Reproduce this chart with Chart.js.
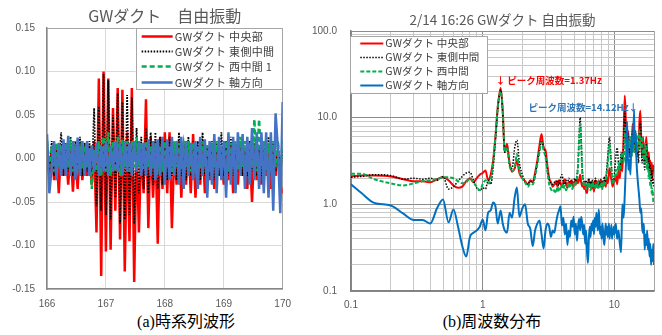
<!DOCTYPE html>
<html>
<head>
<meta charset="utf-8">
<script src="https://cdn.jsdelivr.net/npm/chart.js@4.4.1/dist/chart.umd.min.js"></script>
<style>
    body { margin: 0; background: #fff; }
    #page { position: relative; width: 662px; height: 335px; background: #fff; overflow: hidden; }
    #waveChart { position: absolute; left: 0; top: 0; }
    #specChart { position: absolute; left: 300px; top: 0; }
    .caption { position: absolute; top: 312px; line-height: 20px; font-size: 16px; color: #000;
        font-family: "Liberation Serif", "Noto Sans CJK JP", serif; transform: translateX(-50%); white-space: nowrap; }
</style>
</head>
<body>
<div id="page">
    <canvas id="waveChart" width="300" height="312"></canvas>
    <canvas id="specChart" width="362" height="312"></canvas>
    <div class="caption" style="left:186px">(a)時系列波形</div>
    <div class="caption" style="left:492px">(b)周波数分布</div>
</div>
<script>
// ---- (a) 時系列 : 166〜170 s, 0.04 s 間隔 ----
var timeStart = 166;
var timeStep = 0.04;
var waveNames = ['GWダクト 中央部', 'GWダクト 東側中間', 'GWダクト 西中間 1', 'GWダクト 軸方向'];
var waveCenter = [
    0.005, -0.02, 0.012, -0.025, 0.01, -0.04, 0.015, -0.02, 0.008, -0.03,
    0.012, -0.038, 0.01, -0.035, 0.018, -0.025, 0.01, -0.02, 0.015, -0.03,
    0.02, -0.085, 0.092, -0.135, 0.10, -0.107, 0.092, -0.105, 0.058, -0.06,
    0.081, -0.093, 0.079, -0.13, 0.03, -0.095, 0.081, -0.142, 0.02, -0.085,
    0.015, -0.04, 0.068, -0.08, 0.025, -0.045, 0.02, -0.098, 0.025, -0.035,
    0.03, -0.04, 0.03, -0.08, 0.01, -0.03, 0.02, -0.045, 0.015, -0.03,
    0.02, -0.04, 0.028, -0.045, 0.01, -0.03, 0.02, -0.04, 0.012, -0.025,
    0.01, -0.035, 0.015, -0.02, 0.01, -0.03, 0.012, -0.025, 0.015, -0.04,
    0.01, -0.03, 0.015, -0.02, 0.012, -0.035, 0.01, -0.05, 0.015, -0.025,
    0.01, -0.03, 0.012, -0.02, 0.01, -0.035, 0.015, -0.02, 0.01, -0.03,
    -0.04
];
var waveEast = [
    0.02, -0.015, 0.02, -0.02, 0.015, -0.01, 0.03, -0.02, 0.018, -0.015,
    0.025, -0.02, 0.02, -0.015, 0.025, -0.02, 0.018, -0.015, 0.02, -0.02,
    0.058, -0.055, 0.06, -0.06, 0.097, -0.065, 0.09, -0.07, 0.05, -0.045,
    0.075, -0.075, 0.065, -0.07, 0.073, -0.065, 0.07, -0.075, 0.035, -0.04,
    0.025, -0.035, 0.035, -0.04, 0.03, -0.03, 0.03, -0.035, 0.025, -0.03,
    0.02, -0.025, 0.025, -0.02, 0.02, -0.025, 0.03, -0.02, 0.02, -0.025,
    0.025, -0.02, 0.02, -0.02, 0.02, -0.025, 0.03, -0.02, 0.015, -0.02,
    0.02, -0.025, 0.02, -0.02, 0.03, -0.02, 0.02, -0.02, 0.025, -0.02,
    0.015, -0.015, 0.02, -0.02, 0.015, -0.02, 0.02, -0.015, 0.018, -0.02,
    0.015, -0.02, 0.02, -0.015, 0.025, -0.02, 0.02, -0.015, 0.02, -0.02,
    0.01
];
var waveWest = [
    0.02, -0.01, 0.015, -0.015, 0.018, -0.01, 0.015, -0.012, 0.018, -0.01,
    0.012, -0.015, 0.015, -0.01, 0.01, -0.012, 0.015, -0.01, 0.012, -0.035,
    0.01, -0.015, 0.02, -0.02, 0.025, -0.015, 0.03, -0.02, 0.02, -0.015,
    0.025, -0.02, 0.022, -0.01, 0.02, -0.015, 0.02, -0.01, 0.025, -0.01,
    0.018, -0.012, 0.02, -0.01, 0.015, -0.012, 0.018, -0.01, 0.015, -0.015,
    0.02, -0.01, 0.015, -0.015, 0.02, -0.01, 0.018, -0.012, 0.015, -0.01,
    0.02, -0.015, 0.018, -0.01, 0.015, -0.012, 0.02, -0.01, 0.015, -0.015,
    0.018, -0.01, 0.02, -0.012, 0.015, -0.01, 0.02, -0.015, 0.018, -0.01,
    0.02, -0.012, 0.025, -0.01, 0.02, -0.015, 0.018, -0.01, 0.045, -0.015,
    0.045, -0.01, 0.02, -0.015, 0.018, -0.012, 0.02, -0.01, 0.02, -0.015,
    0.02
];
var waveAxial = [
    0.028, -0.04, -0.01, 0.02, -0.025, 0.018, -0.02, 0.022, -0.02, 0.026,
    -0.02, 0.02, -0.025, 0.024, -0.02, 0.02, -0.02, 0.02, -0.02, 0.015,
    -0.015, 0.018, -0.02, 0.015, -0.015, 0.02, -0.02, 0.015, -0.015, 0.02,
    -0.015, 0.018, -0.02, 0.02, -0.015, 0.018, -0.02, 0.02, -0.015, 0.02,
    -0.02, 0.018, -0.02, 0.022, -0.02, 0.02, -0.025, 0.022, -0.02, 0.025,
    -0.03, 0.022, -0.025, 0.025, -0.02, 0.02, -0.03, 0.025, -0.035, 0.02,
    -0.02, 0.018, -0.025, 0.02, -0.035, 0.025, -0.02, 0.022, -0.045, 0.02,
    -0.03, 0.028, -0.04, 0.025, -0.025, 0.02, -0.045, 0.03, -0.03, 0.025,
    -0.04, 0.03, -0.02, 0.028, -0.035, 0.025, -0.03, 0.035, -0.025, 0.03,
    -0.035, 0.03, -0.04, 0.03, -0.045, 0.03, -0.06, 0.052, 0.01, -0.063,
    0.065
];
var waveXTicks = [166, 167, 168, 169, 170];
var waveYTicks = [-0.15, -0.10, -0.05, 0, 0.05, 0.10, 0.15];

// ---- (b) 周波数分布 ----
var specNames = ['GWダクト 中央部', 'GWダクト 東側中間', 'GWダクト 西中間', 'GWダクト 軸方向'];
var freqHz = [
    0.1, 0.12, 0.15, 0.2, 0.25, 0.3, 0.35, 0.4, 0.45, 0.5,
    0.55, 0.6, 0.65, 0.7, 0.75, 0.8, 0.85, 0.9, 0.95, 1.0,
    1.05, 1.1, 1.15, 1.2, 1.25, 1.3, 1.37, 1.42, 1.47, 1.53,
    1.6, 1.67, 1.75, 1.82, 1.9, 2.0, 2.1, 2.2, 2.3, 2.4,
    2.5, 2.6, 2.7, 2.8, 2.9, 3.0, 3.1, 3.2, 3.3, 3.4,
    3.5, 3.6, 3.7, 3.8, 3.9, 4.0, 4.1, 4.2, 4.3, 4.4,
    4.5, 4.6, 4.7, 4.8, 4.9, 5.0, 5.1, 5.2, 5.3, 5.4,
    5.5, 5.6, 5.7, 5.8, 5.9, 6.0, 6.1, 6.2, 6.3, 6.4,
    6.5, 6.6, 6.7, 6.8, 6.9, 7.0, 7.1, 7.2, 7.3, 7.4,
    7.5, 7.6, 7.7, 7.8, 7.9, 8.0, 8.1, 8.2, 8.3, 8.4,
    8.5, 8.6, 8.7, 8.8, 8.9, 9.0, 9.1, 9.2, 9.3, 9.4,
    9.5, 9.6, 9.7, 9.8, 9.9,
    10.0, 10.25, 10.5, 10.75, 11.0, 11.25, 11.5, 11.75, 12.0, 12.25,
    12.5, 12.75, 13.0, 13.25, 13.5, 13.75, 14.12, 14.25, 14.5, 14.75,
    15.0, 15.25, 15.5, 15.75, 16.0, 16.25, 16.5, 16.75, 17.0, 17.25,
    17.5, 17.75, 18.0, 18.25, 18.5, 18.75, 19.0, 19.25, 19.5, 19.75,
    20.0
];
var specCenter = [
    2.1, 2.15, 2.15, 2.1, 1.95, 1.85, 1.85, 1.8, 1.95, 2.05,
    1.9, 1.65, 1.55, 1.6, 1.85, 2.0, 1.8, 2.0, 2.2, 2.3,
    2.45, 1.9, 2.2, 3.2, 6.0, 13, 22, 12, 4.0, 5.0,
    3.0, 2.4, 2.6, 3.2, 2.3, 2.0, 1.85, 1.7, 1.9, 1.8,
    2.3, 3.2, 4.8, 6.5, 4.5, 4.2, 2.8, 2.0, 1.8, 1.6,
    1.7, 1.85, 1.6, 1.9, 1.75, 1.6, 1.8, 1.95, 1.7, 1.55,
    1.8, 1.65, 1.9, 1.75, 1.6, 1.85, 1.7, 2.0, 1.75, 1.9,
    2.2, 1.8, 1.6, 1.75, 1.5, 1.8, 1.4, 1.35, 1.7, 1.9,
    1.6, 1.75, 1.5, 1.85, 1.65, 1.4, 1.8, 1.9, 1.6, 1.75,
    1.55, 1.85, 1.7, 1.6, 1.9, 1.75, 1.55, 1.8, 1.65, 1.9,
    1.7, 1.6, 1.85, 2.0, 1.75, 2.0, 2.3, 2.6, 2.4, 2.1,
    1.9, 1.75, 1.6, 1.7, 1.85,
    1.8, 2.2, 1.7, 2.5, 2.0, 3.2, 2.4, 6.0, 18, 8.0,
    4.5, 7.0, 3.5, 5.5, 4.0, 8.5, 5.0, 4.0, 6.5, 3.5,
    5.0, 4.0, 9.0, 12, 5.5, 3.5, 6.0, 4.0, 3.0, 4.5,
    6.0, 3.5, 3.0, 4.0, 2.5, 3.2, 2.2, 3.0, 2.0, 2.8,
    2.4
];
var specEast = [
    2.05, 2.1, 2.2, 2.15, 1.95, 2.0, 1.95, 2.0, 1.9, 2.1,
    1.5, 1.6, 1.85, 2.1, 2.3, 2.35, 1.9, 1.55, 1.45, 1.55,
    1.5, 1.9, 1.7, 2.6, 5.5, 12, 21, 11, 4.0, 4.5,
    2.8, 2.6, 4.5, 5.5, 3.0, 2.2, 1.8, 1.7, 1.85, 1.75,
    2.2, 3.0, 4.2, 5.3, 4.6, 3.6, 2.5, 1.9, 1.75, 1.7,
    1.8, 1.7, 1.9, 1.65, 2.0, 2.2, 1.8, 1.7, 1.9, 1.75,
    2.0, 1.8, 1.65, 1.9, 1.8, 2.0, 1.85, 2.2, 3.0, 6.0,
    10, 5.5, 2.6, 2.0, 1.8, 1.7, 1.9, 1.6, 1.8, 2.0,
    1.7, 1.85, 1.65, 1.9, 1.75, 1.6, 1.85, 2.0, 1.7, 1.8,
    1.65, 1.9, 1.75, 1.7, 1.95, 1.8, 1.7, 1.85, 1.9, 2.1,
    1.8, 2.0, 2.3, 2.8, 3.5, 4.5, 5.5, 6.0, 4.8, 3.6,
    2.8, 2.2, 1.9, 1.8, 2.0,
    2.2, 3.5, 4.5, 3.0, 2.5, 4.0, 3.0, 5.0, 12, 6.0,
    4.5, 6.5, 4.0, 5.0, 3.5, 7.0, 6.0, 4.5, 5.5, 3.5,
    4.5, 3.0, 6.5, 9.0, 4.5, 3.0, 5.0, 3.5, 2.5, 4.0,
    5.0, 3.0, 2.5, 3.5, 2.0, 2.8, 1.8, 2.5, 1.7, 2.0,
    1.6
];
var specWest = [
    2.25, 2.25, 1.95, 1.75, 1.65, 1.75, 1.85, 1.9, 1.95, 2.05,
    2.05, 2.0, 1.85, 1.75, 1.8, 2.0, 1.8, 1.6, 1.45, 1.7,
    1.9, 1.75, 1.9, 3.0, 6.0, 13, 20, 12, 4.0, 4.6,
    2.8, 2.4, 2.7, 3.8, 2.4, 2.0, 1.8, 1.6, 1.75, 1.7,
    2.1, 2.9, 4.0, 5.2, 4.2, 3.5, 2.4, 1.7, 1.5, 1.4,
    1.45, 1.35, 1.6, 1.4, 1.55, 1.7, 1.5, 1.65, 1.45, 1.6,
    1.8, 1.55, 1.7, 1.5, 1.75, 1.6, 1.8, 2.0, 2.8, 5.5,
    8.5, 5.0, 2.4, 1.8, 1.6, 1.75, 1.5, 1.7, 1.55, 1.8,
    1.6, 1.45, 1.7, 1.55, 1.8, 1.6, 1.7, 1.5, 1.75, 1.6,
    1.85, 1.55, 1.7, 1.6, 1.8, 1.65, 1.5, 1.75, 1.6, 1.85,
    1.7, 1.9, 2.1, 2.5, 3.0, 3.8, 4.5, 5.0, 4.2, 3.2,
    2.5, 2.0, 1.8, 1.7, 1.9,
    1.9, 2.5, 2.2, 3.0, 2.4, 3.5, 4.0, 3.0, 6.0, 8.0,
    4.0, 5.5, 4.5, 6.0, 3.5, 5.0, 4.0, 7.0, 5.0, 6.5,
    4.0, 5.5, 7.0, 5.0, 4.5, 6.0, 3.5, 4.5, 3.0, 5.0,
    3.5, 2.5, 3.0, 2.0, 2.5, 1.6, 1.8, 1.3, 1.5, 1.1,
    1.0
];
var specAxial = [
    1.7, 1.35, 1.04, 0.97, 0.78, 0.66, 0.66, 0.6, 0.9, 1.14,
    0.62, 0.87, 0.55, 0.33, 0.25, 0.42, 0.47, 0.5, 0.55, 0.67,
    0.5, 0.8, 0.85, 1.05, 0.95, 0.6, 0.85, 0.6, 0.5, 0.47,
    0.8, 0.7, 1.2, 1.56, 0.72, 0.9, 1.0, 0.6, 0.52, 0.33,
    0.5, 0.6, 0.65, 0.45, 0.31, 0.5, 0.6, 0.55, 0.42, 0.5,
    0.47, 0.6, 0.75, 0.85, 0.95, 0.57, 0.7, 0.45, 0.6, 0.34,
    0.5, 0.42, 0.65, 0.55, 0.72, 0.45, 0.6, 0.38, 0.55, 0.68,
    0.5, 0.72, 0.6, 0.45, 0.58, 0.35, 0.5, 0.28, 0.21, 0.4,
    0.55, 0.42, 0.6, 0.5, 0.65, 0.45, 0.7, 0.55, 0.8, 0.6,
    0.5, 0.87, 0.65, 0.45, 0.55, 0.4, 0.6, 0.5, 0.38, 0.34,
    0.48, 0.6, 0.45, 0.55, 0.42, 0.5, 0.6, 0.4, 0.52, 0.45,
    0.58, 0.4, 0.5, 0.45, 0.55,
    0.45, 0.6, 0.4, 0.5, 0.35, 0.28, 1.0, 0.7, 1.3, 3.0,
    9.0, 2.5, 3.3, 2.2, 6.0, 4.0, 12, 5.2, 7.0, 3.0,
    2.0, 1.5, 1.14, 0.8, 0.9, 0.55, 0.47, 0.6, 0.3, 0.45,
    0.34, 0.5, 0.3, 0.4, 0.25, 0.35, 0.2, 0.3, 0.22, 0.35,
    0.2
];
var specXLabels = [0.1, 1, 10];
var specYLabels = [0.1, 1, 10, 100];
var peakNotes = ['↓ ピーク周波数=1.37Hz', 'ピーク周波数=14.12Hz↓'];
var peakFreqs = [1.37, 14.12];

var tickFont = {family: 'Liberation Sans', size: 10};
var cjkFont = '"Noto Sans CJK JP", "Noto Sans", sans-serif';

function toPoints(xs, ys) {
    return ys.map(function (y, i) {
        return {x: xs[i], y: y};
    });
}

function near(a, b) {
    return Math.abs(a - b) < 1e-9;
}

function isDecade(v) {
    var e = Math.log10(v);
    return Math.abs(e - Math.round(e)) < 1e-6;
}

// 対数軸の目盛 (1〜9 x 10^n)
function logTicks(min, max) {
    var list = [];
    for (var e = -1; e <= 2; e++) {
        for (var m = 1; m < 10; m++) {
            var v = +(m * Math.pow(10, e)).toPrecision(6);
            if (v >= min - 1e-9 && v <= max + 1e-9) {
                list.push({value: v});
            }
        }
    }
    return list;
}

// 凡例はプロット内に箱で描く
var legendBox = {
    id: 'legendBox',
    afterDatasetsDraw: function (chart, args, o) {
        var ctx = chart.ctx, area = chart.chartArea;
        var left = o.side === 'right' ? area.right - o.offsetX - o.width : area.left + o.offsetX;
        var top = area.top + o.offsetY;
        ctx.save();
        ctx.fillStyle = '#fff';
        ctx.fillRect(left, top, o.width, o.height);
        ctx.strokeStyle = '#a6a6a6';
        ctx.lineWidth = 1;
        ctx.strokeRect(Math.round(left) + 0.5, Math.round(top) + 0.5, Math.round(o.width), Math.round(o.height));
        ctx.font = o.fontSize + 'px ' + cjkFont;
        ctx.letterSpacing = o.spacing + 'px';
        ctx.textBaseline = 'middle';
        ctx.textAlign = 'left';
        chart.data.datasets.forEach(function (ds, i) {
            var y = Math.round(top + o.firstRow + i * o.rowHeight) + 0.5;
            ctx.beginPath();
            ctx.setLineDash(ds.borderDash || []);
            ctx.strokeStyle = ds.borderColor;
            ctx.lineWidth = ds.borderWidth;
            ctx.moveTo(left + o.lineStart, y);
            ctx.lineTo(left + o.lineEnd, y);
            ctx.stroke();
            ctx.setLineDash([]);
            ctx.fillStyle = '#404040';
            ctx.fillText(ds.label, left + o.textX, y);
        });
        ctx.restore();
    }
};

// ピーク周波数の注記
var peakLabels = {
    id: 'peakLabels',
    afterDatasetsDraw: function (chart, args, o) {
        var ctx = chart.ctx, xs = chart.scales.x, ys = chart.scales.y;
        ctx.save();
        ctx.font = 'bold 9.5px ' + cjkFont;
        ctx.textBaseline = 'middle';
        o.items.forEach(function (it, i) {
            ctx.fillStyle = it.color;
            ctx.textAlign = it.align;
            ctx.fillText(peakNotes[i], xs.getPixelForValue(peakFreqs[i]) + it.shift, ys.getPixelForValue(it.level));
        });
        ctx.restore();
    }
};

var waveTimes = waveCenter.map(function (v, i) {
    return +(timeStart + i * timeStep).toFixed(2);
});

new Chart(document.getElementById('waveChart'), {
    type: 'line',
    data: {
        datasets: [
            {label: waveNames[0], data: toPoints(waveTimes, waveCenter), borderColor: '#FF0000', borderWidth: 2.5, order: 4},
            {label: waveNames[1], data: toPoints(waveTimes, waveEast), borderColor: '#000000', borderWidth: 1.8, borderDash: [1.5, 1.5], order: 3},
            {label: waveNames[2], data: toPoints(waveTimes, waveWest), borderColor: '#00B050', borderWidth: 2.5, borderDash: [5, 3], order: 2},
            {label: waveNames[3], data: toPoints(waveTimes, waveAxial), borderColor: '#4472C4', borderWidth: 2.5, order: 1}
        ]
    },
    options: {
        responsive: false,
        animation: false,
        devicePixelRatio: 1,
        layout: {padding: {left: 0, right: 14, top: 0, bottom: 0}},
        elements: {point: {radius: 0}, line: {tension: 0}},
        plugins: {
            legend: {display: false},
            tooltip: {enabled: false},
            title: {
                display: true, text: 'GWダクト　自由振動', color: '#595959', fullSize: false,
                font: {family: cjkFont, size: 16, weight: 'normal'},
                padding: {top: 6.5, bottom: 2.3}
            },
            legendBox: {
                side: 'right', offsetX: 1, offsetY: 0, width: 146, height: 61,
                firstRow: 7.7, rowHeight: 15.3, lineStart: 6, lineEnd: 37, textX: 39, fontSize: 11, spacing: 0.3
            }
        },
        scales: {
            x: {
                type: 'linear', min: 166, max: 170,
                afterBuildTicks: function (sc) {
                    sc.ticks = waveXTicks.map(function (v) { return {value: v}; });
                },
                afterFit: function (sc) { sc.height = 23; },
                ticks: {color: '#595959', font: tickFont, padding: 9, maxRotation: 0, autoSkip: false},
                grid: {
                    drawTicks: false,
                    color: function (c) { return c.tick && c.tick.value === 170 ? '#a6a6a6' : '#d9d9d9'; }
                },
                border: {color: '#868686', width: 1.5}
            },
            y: {
                type: 'linear', min: -0.15, max: 0.15,
                afterBuildTicks: function (sc) {
                    sc.ticks = waveYTicks.map(function (v) { return {value: v}; });
                },
                afterFit: function (sc) { sc.width = 47; },
                ticks: {
                    color: '#595959', font: tickFont, padding: 12, autoSkip: false,
                    callback: function (v) { return near(v, 0) ? '0.00' : Number(v).toFixed(2); }
                },
                grid: {
                    drawTicks: false,
                    color: function (c) { return c.tick && near(c.tick.value, 0.15) ? '#a6a6a6' : '#d9d9d9'; }
                },
                border: {color: '#868686', width: 1.5}
            }
        }
    },
    plugins: [legendBox]
});

new Chart(document.getElementById('specChart'), {
    type: 'line',
    data: {
        datasets: [
            {label: specNames[0], data: toPoints(freqHz, specCenter), borderColor: '#FF0000', borderWidth: 2, order: 4},
            {label: specNames[1], data: toPoints(freqHz, specEast), borderColor: '#000000', borderWidth: 1.5, borderDash: [1.5, 1.5], order: 3},
            {label: specNames[2], data: toPoints(freqHz, specWest), borderColor: '#00B050', borderWidth: 2, borderDash: [4, 2], order: 2},
            {label: specNames[3], data: toPoints(freqHz, specAxial), borderColor: '#0070C0', borderWidth: 2, order: 1}
        ]
    },
    options: {
        responsive: false,
        animation: false,
        devicePixelRatio: 1,
        layout: {padding: {left: 0, right: 7, top: 0, bottom: 0}},
        elements: {point: {radius: 0}, line: {cubicInterpolationMode: 'monotone'}},
        plugins: {
            legend: {display: false},
            tooltip: {enabled: false},
            title: {
                display: true, text: '2/14 16:26 GWダクト 自由振動', color: '#595959', fullSize: false,
                font: {family: cjkFont, size: 13.5, weight: 'normal'},
                padding: {top: 11.9, bottom: 2.9}
            },
            legendBox: {
                side: 'left', offsetX: -1.4, offsetY: 5, width: 137.4, height: 56.7,
                firstRow: 7.3, rowHeight: 13.9, lineStart: 10.7, lineEnd: 33.7, textX: 35.7, fontSize: 10.5, spacing: 0.2
            },
            peakLabels: {
                items: [
                    {color: '#FF0000', align: 'left', shift: -5, level: 27},
                    {color: '#2E75B6', align: 'right', shift: 4, level: 13.3}
                ]
            }
        },
        scales: {
            x: {
                type: 'logarithmic', min: 0.1, max: 20,
                afterBuildTicks: function (sc) { sc.ticks = logTicks(0.1, 20); },
                afterFit: function (sc) { sc.height = 21; },
                ticks: {
                    color: '#595959', font: tickFont, padding: 8, maxRotation: 0, autoSkip: false,
                    callback: function (v) { return specXLabels.indexOf(v) >= 0 ? String(v) : ''; }
                },
                grid: {
                    drawTicks: false,
                    color: function (c) {
                        if (!c.tick) return '#c8c8c8';
                        if (near(c.tick.value, 20)) return '#a6a6a6';
                        return isDecade(c.tick.value) ? '#8c8c8c' : '#c8c8c8';
                    }
                },
                border: {color: '#808080', width: 1.5}
            },
            y: {
                type: 'logarithmic', min: 0.1, max: 100,
                afterBuildTicks: function (sc) { sc.ticks = logTicks(0.1, 100); },
                afterFit: function (sc) { sc.width = 51; },
                ticks: {
                    color: '#595959', font: tickFont, padding: 14, autoSkip: false,
                    callback: function (v) { return specYLabels.indexOf(v) >= 0 ? Number(v).toFixed(1) : ''; }
                },
                grid: {
                    drawTicks: false,
                    color: function (c) {
                        if (!c.tick) return '#c8c8c8';
                        return isDecade(c.tick.value) ? '#8c8c8c' : '#c8c8c8';
                    }
                },
                border: {color: '#808080', width: 1.5}
            }
        }
    },
    plugins: [legendBox, peakLabels]
});
</script>
</body>
</html>
